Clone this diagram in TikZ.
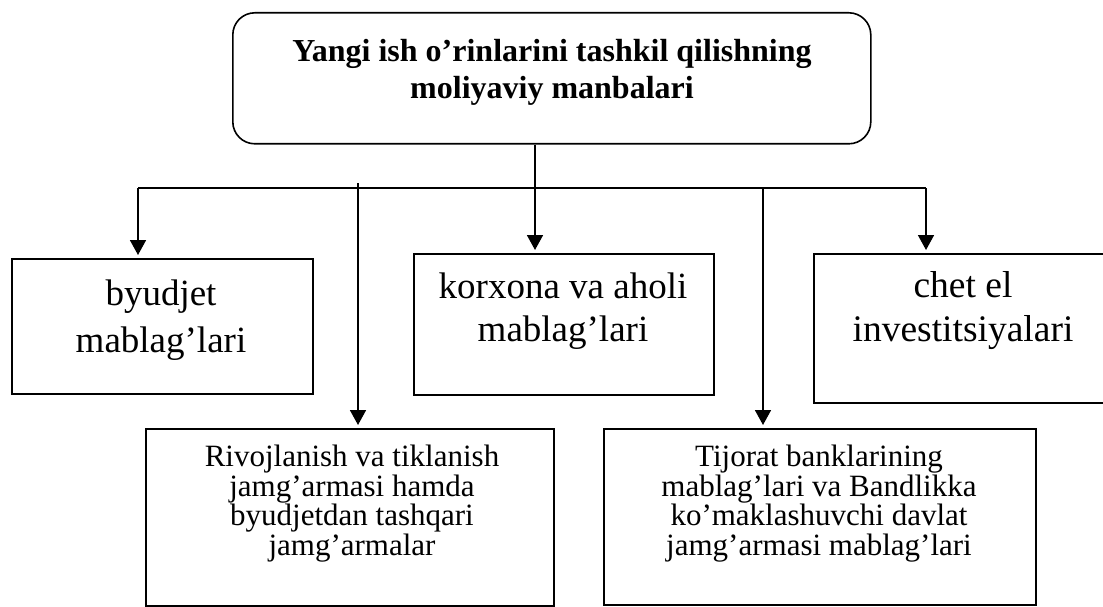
\documentclass[tikz,border=0pt]{standalone}
\usepackage{fontspec}
\setmainfont{Liberation Serif}
\usetikzlibrary{arrows.meta}
\begin{document}
\begin{tikzpicture}[x=1pt,y=-1pt,
  box/.style={draw, line width=1.6pt, rectangle, inner sep=0pt, anchor=north west},
  % multi-line labels are placed by the baseline of their last line
  label/.style={align=center, anchor=base, inner sep=0pt},
  smalltext/.style={label, font=\fontsize{31}{29.5}\selectfont},
  link/.style={line width=1.7pt},
  arr/.style={link, -{Triangle[width=16pt,length=15pt]}, shorten >=3pt}]
\useasboundingbox (0,0) rectangle (1103,607);

% title box
\node[box, rounded corners=22pt, minimum width=638pt, minimum height=131pt] (title) at (232,12) {};
\node[label, font=\bfseries\fontsize{32}{37}\selectfont] (titletext) at (552,99)
  {Yangi ish o’rinlarini tashkil qilishning\\moliyaviy manbalari};

% source boxes, upper row
\node[box, minimum width=301pt, minimum height=135pt] (byudjet) at (11,258) {};
\node[label, font=\fontsize{37}{47}\selectfont] (byudjettext) at (161,352) {byudjet\\mablag’lari};

\node[box, minimum width=300pt, minimum height=141pt] (korxona) at (413,253) {};
\node[label, font=\fontsize{37}{43}\selectfont] (korxonatext) at (563,341) {korxona va aholi\\mablag’lari};

\node[box, minimum width=300pt, minimum height=149pt] (chet) at (813,253) {};
\node[label, font=\fontsize{37.5}{44}\selectfont] (chettext) at (963,341) {chet el\\investitsiyalari};

% source boxes, lower row
\node[box, minimum width=408pt, minimum height=177pt] (rivoj) at (145,428) {};
\node[smalltext] (rivojtext) at (352,555)
  {Rivojlanish va tiklanish\\jamg’armasi hamda\\byudjetdan tashqari\\jamg’armalar};

\node[box, minimum width=432pt, minimum height=176pt] (tijorat) at (603,428) {};
\node[smalltext] (tijorattext) at (819,555)
  {Tijorat banklarining\\mablag’lari va Bandlikka\\ko’maklashuvchi davlat\\jamg’armasi mablag’lari};

% branching connectors
\coordinate (trunk) at (535,188);
\coordinate (busL) at (138,188);
\coordinate (busR) at (926,188);
\coordinate (rivojX) at (358,183);
\coordinate (tijoratX) at (763,188);

\draw[link] (busL) -- (busR);
\draw[arr] (title.south -| trunk) -- (korxona.north -| trunk);
\draw[arr] (busL) -- (byudjet.north -| busL);
\draw[arr] (busR) -- (chet.north -| busR);
\draw[arr] (rivojX) -- (rivoj.north -| rivojX);
\draw[arr] (tijoratX) -- (tijorat.north -| tijoratX);
\end{tikzpicture}
\end{document}
